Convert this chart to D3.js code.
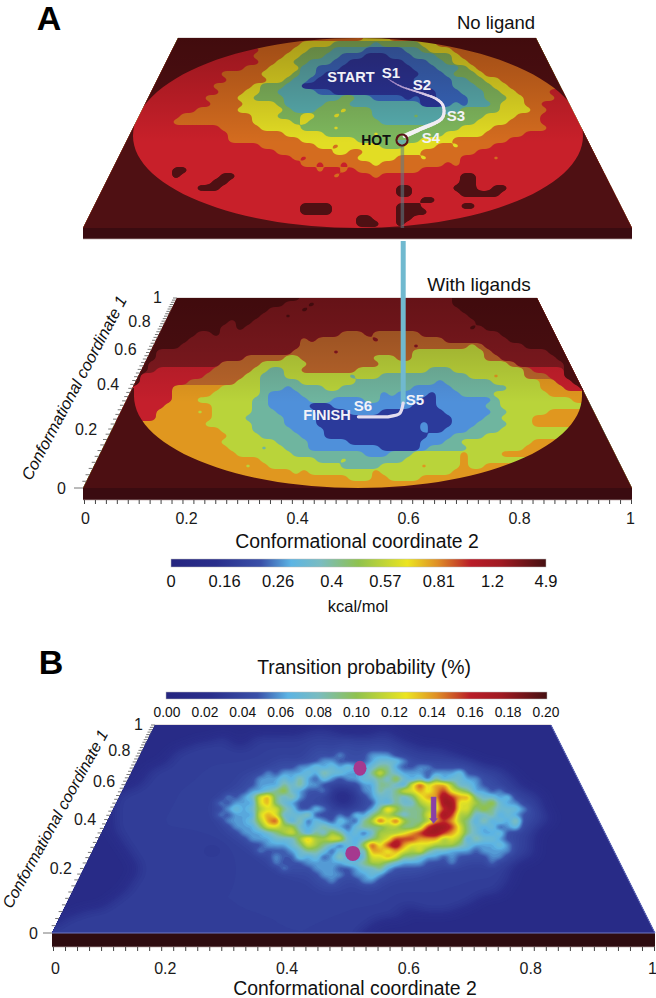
<!DOCTYPE html>
<html><head><meta charset="utf-8">
<script src="https://cdn.jsdelivr.net/npm/d3@7"></script>
<style>html,body{margin:0;padding:0;background:#fff}svg{display:block}text{font-family:"Liberation Sans",Arial,sans-serif}</style>
</head><body><svg id="c" width="656" height="998"></svg>
<script>
// Energy levels read from the "No ligand" landscape (0 = lowest band, 8 = unsampled)
const noLigandLevels = [
"88888 88888 88888 88888 88888 88888 88555 54445 55888 88888 88888 88888 88888 88888",
"88888 88888 88888 88888 88885 55544 44333 33233 33344 55888 88888 88888 88888 88888",
"88888 88888 88888 88888 86655 55443 33222 21111 12234 44558 88888 88888 88888 88888",
"88888 88888 88888 88866 66555 54433 32211 10001 11222 33455 55588 88888 88888 88888",
"88888 88888 88888 86666 66655 44332 22110 00000 01112 23445 55555 88888 88888 88888",
"88888 88888 88886 66666 65554 44422 11100 00000 00111 22234 55555 88888 88888 88888",
"88888 88888 88866 66655 55544 44322 10000 00000 00011 12333 45555 55888 88888 88888",
"88888 88888 88666 66665 55554 43221 00000 00000 00111 11223 34455 55588 88888 88888",
"88888 88888 86666 66555 55433 32200 00000 00000 00001 11222 33445 55555 88888 88888",
"88888 88888 86666 66655 54433 22222 11000 00000 00000 11122 23344 55556 68888 88888",
"88888 88888 66666 65555 44333 32222 22233 22111 10100 11112 23334 45555 66888 88888",
"88888 88886 66666 66555 54444 32222 23332 22222 22200 01212 22344 45566 66888 88888",
"88888 88886 66666 55555 44444 43222 33343 33222 22222 22233 33344 44556 66888 88888",
"88888 88866 66655 55555 55444 33344 33433 33222 22322 23333 34444 55566 66688 88888",
"88888 88666 66555 55555 55444 44343 33333 33322 22222 33333 44445 55566 66688 88888",
"88888 88666 66666 66655 55544 44433 33433 33333 33333 33344 44555 55556 66688 88888",
"88888 88666 66666 66665 55555 54444 43333 33433 33333 34444 45555 56666 66688 88888",
"88888 88666 66666 66665 55555 55544 44444 33333 33344 44555 55556 66666 66688 88888",
"88888 88866 66666 66666 66655 55555 44544 44433 34444 55455 55666 66666 66888 88888",
"88888 88866 66666 66666 66666 55555 55445 54444 44455 55555 66666 66666 66888 88888",
"88888 88886 66666 66666 66666 66565 55555 44444 55545 55566 66566 66666 68888 88888",
"88888 88886 66666 66666 66666 66655 65565 55455 55555 56566 66666 66666 88888 88888",
"88888 88888 66886 66666 66666 66666 56656 55555 55566 66666 66666 66666 88888 88888",
"88888 88888 86866 66688 66666 66666 66566 66566 66666 66688 66666 66688 88888 88888",
"88888 88888 88866 66886 66666 66666 66666 66666 66666 66688 66666 66688 88888 88888",
"88888 88888 88886 88866 66666 66666 66666 66666 88666 66888 66886 68888 88888 88888",
"88888 88888 88888 88866 66666 66666 66666 66666 88666 66688 88866 88888 88888 88888",
"88888 88888 88888 86666 66666 66666 66666 66666 66688 66666 88888 88888 88888 88888",
"88888 88888 88888 88866 66666 66688 88666 66666 88866 66688 68888 88888 88888 88888",
"88888 88888 88888 88888 66666 66688 88666 66666 88886 66688 88888 88888 88888 88888",
"88888 88888 88888 88888 88666 66666 66666 88666 88666 68888 88888 88888 88888 88888",
"88888 88888 88888 88888 88888 66666 66666 88866 86688 88888 88888 88888 88888 88888",
"88888 88888 88888 88888 88888 88866 66666 66888 88888 88888 88888 88888 88888 88888"];

// Energy levels read from the "With ligands" landscape
const withLigandsLevels = [
"88888 88888 88888 88888 88888 88877 77777 77777 77777 77888 88888 88888 88888 88888",
"88888 88888 88888 88888 88888 87778 77777 77777 77777 77888 88888 88888 88888 88888",
"88888 88888 88888 88888 88887 77787 77777 77777 77777 77788 88888 88888 88888 88888",
"88888 88888 88888 88888 88877 78777 77777 77777 77777 77778 88888 88888 88888 88888",
"88888 88888 88888 88887 88777 77777 77777 77777 77777 77777 88888 88888 88888 88888",
"88888 88888 88888 88877 87777 77777 77777 77777 77777 77778 78888 88888 88888 88888",
"88888 88888 88888 77877 77777 77777 77755 57555 55577 77777 77788 88888 88888 88888",
"88888 88888 88887 77777 77777 77757 55555 55755 55555 57777 77778 88888 88888 88888",
"88888 88888 88877 77777 77777 77755 55555 55555 55755 55553 57777 78888 88888 88888",
"88888 88888 77777 77777 77777 77555 55755 55555 55333 33333 35777 77778 88888 88888",
"88888 88888 77777 77777 75555 53355 55555 55333 55333 33333 35577 77777 88888 88888",
"88888 88887 77777 77755 55533 33335 55555 55533 33333 33333 33335 77777 78888 88888",
"88888 88887 66666 66555 55332 23355 55555 33333 33332 22333 33333 35666 68888 88888",
"88888 88866 66666 65555 53322 23333 33332 33322 22222 22223 33433 35556 68888 88888",
"88888 88866 66665 55555 33322 22233 33333 22222 22222 12222 22333 33344 66888 88888",
"88888 88666 66444 44433 33322 21222 23322 22222 22111 11222 22223 33344 46688 88888",
"88888 88666 66444 44333 33321 11122 22222 22212 11110 11122 22333 33334 44488 88888",
"88888 88666 66444 33333 33221 11112 22111 12211 11100 11111 11233 33333 33488 88888",
"88888 88666 64444 44333 33221 11110 00111 11111 11000 11111 12233 33333 33388 88888",
"88888 88866 44444 34333 33222 11111 00001 11100 00000 01111 11223 33334 44888 88888",
"88888 88866 44444 44333 32222 21111 00000 00000 00000 00111 12233 33444 44888 88888",
"88888 88884 44444 43333 33222 21111 00000 00000 00010 00111 22223 33444 88888 88888",
"88888 88888 44444 44433 33222 22111 10000 00000 00010 01112 22233 33333 88888 88888",
"88888 88888 84444 44443 33322 22211 10000 00000 00001 11222 23333 33338 88888 88888",
"88888 88888 88844 44433 33333 22221 11110 00000 00011 12233 33333 33488 88888 88888",
"88888 88888 88884 44443 33323 32221 11111 11100 00012 22223 33333 34888 88888 88888",
"88888 88888 88888 44444 33333 33222 22222 21112 22333 33343 33348 88888 88888 88888",
"88888 88888 88888 88444 44433 33333 22232 22222 23333 33343 33888 88888 88888 88888",
"88888 88888 88888 88844 43443 33333 33322 22233 33343 33343 34888 88888 88888 88888",
"88888 88888 88888 88888 84444 44343 33333 33433 33333 33448 88888 88888 88888 88888",
"88888 88888 88888 88888 88844 44444 44443 33443 33344 48888 88888 88888 88888 88888",
"88888 88888 88888 88888 88888 88444 44444 44444 44448 88888 88888 88888 88888 88888",
"88888 88888 88888 88888 88888 88888 88444 44444 88888 88888 88888 88888 88888 88888"];

// Transition probability, coded 0..a
const transitionCodes = [
"00000 00000 00000 00000 00000 00000 00000 00000 00000 00000 00000 00000 00000 00000 00000",
"00000 00000 00000 00000 00000 00000 00111 10000 01100 00000 00000 00000 00000 00000 00000",
"00000 00000 00000 00000 01100 11111 11111 11111 11110 00000 00000 00000 00000 00000 00000",
"00000 00000 00000 00011 11100 11111 11111 11211 11111 10000 00000 00000 00000 00000 00000",
"00000 00000 00000 01111 11111 11111 11122 12212 22211 11111 00000 00000 00000 00000 00000",
"00000 00000 00000 11111 11111 11111 11122 13212 33321 11111 11000 00000 00000 00000 00000",
"00000 00000 00000 11111 11111 11112 11223 32222 34443 21111 11110 00000 00000 00000 00000",
"00000 00000 00011 11111 11111 11122 23343 43433 45532 23322 22211 11000 00000 00000 00000",
"00000 00000 00111 11111 11111 12323 33435 44333 57543 33233 34221 11100 00000 00000 00000",
"00000 00000 00111 11111 11112 23334 35324 32334 45464 34253 44332 21110 00000 00000 00000",
"00000 00000 01111 11111 11111 23335 45332 11223 35543 79788 64432 21110 00000 00000 00000",
"00000 00001 11111 11111 11122 33456 43223 10013 35457 78789 76533 23111 10000 00000 00000",
"00000 00011 11111 11111 11323 47854 53222 00012 34454 5788a 98854 43421 11000 00000 00000",
"00000 00011 11111 11111 13233 37854 32112 10011 24354 4677a a7765 64331 11000 00000 00000",
"00000 00011 11111 11111 12343 46775 42243 21112 35865 55679 a7756 54443 21000 00000 00000",
"00000 00011 11111 11111 13233 37874 44521 13243 56654 5578a 96644 53432 21100 00000 00000",
"00000 00011 11111 11111 11333 46895 35243 24325 69796 55689 86535 34352 11100 00000 00000",
"00000 00011 11111 11111 11233 35776 64345 43245 55665 569aa 97543 42342 11000 00000 00000",
"00000 00011 11111 11111 11123 33456 75354 65342 46667 89aa9 87543 34211 10000 00000 00000",
"00000 00001 11111 11111 11112 33344 46866 77434 56799 98886 76354 43211 10000 00000 00000",
"00000 00001 11111 11111 11111 22333 45765 42436 979a8 77766 65433 34321 10000 00000 00000",
"00000 00000 11111 11111 01111 13222 34554 24354 88787 67544 33323 33311 10000 00000 00000",
"00000 00000 11111 11111 11111 11232 24342 35324 77875 54332 32222 33211 10000 00000 00000",
"00000 00000 01111 11111 11111 11132 22333 33445 66543 33222 32111 31110 00000 00000 00000",
"00000 00000 01111 11111 11111 11113 22133 32234 45322 22211 11111 11100 00000 00000 00000",
"00000 00000 01111 11111 11111 11111 12123 33133 43221 21111 11111 11100 00000 00000 00000",
"00000 00000 11111 11111 11111 11111 11122 31213 32111 11111 11111 11100 00000 00000 00000",
"00000 00000 11111 11111 11111 11111 11112 22112 21111 11111 11111 11000 00000 00000 00000",
"00000 00001 11111 11111 11111 11111 11111 11111 11111 11111 11111 11000 00000 00000 00000",
"00000 00011 11111 11111 11111 11111 11111 11111 11111 11111 11110 00000 00000 00000 00000",
"00000 00111 11111 11111 11111 11111 11111 11111 11111 11111 11100 00000 00000 00000 00000",
"00001 11111 11111 11111 11111 11111 11111 11111 11110 01111 10000 00000 00000 00000 00000",
"00111 11111 11111 11111 11111 11111 11111 11111 11111 00000 00000 00000 00000 00000 00000",
"01111 11111 11111 11111 11111 11111 11111 11111 10000 00000 00000 00000 00000 00000 00000",
"11111 11111 11111 11111 11111 11111 11111 11111 00000 00000 00000 00000 00000 00000 00000",
"11111 11111 11111 11111 11111 11111 11111 11110 00000 00000 00000 00000 00000 00000 00000"];
const transitionCodeValues = [.014,.036,.05,.062,.074,.09,.108,.122,.14,.158,.178];

const noLigandColors = ["#27359b","#3568c0","#56aeb0","#7eb95e","#e2dd24","#d46c1f","#c8202a","#4f1013","#4f1013"];
const withLigandsColors = ["#2b3a9b","#4f90da","#6fb59f","#b9d43a","#e0971f","#b9662b","#c41f2c","#801a20","#4c0f12"];

const energyTicks = ["0","0.16","0.26","0.4","0.57","0.81","1.2","4.9"];
const probTicks = ["0.00","0.02","0.04","0.06","0.08","0.10","0.12","0.14","0.16","0.18","0.20"];
const coordTicks = [0,0.2,0.4,0.6,0.8,1];
const rampStops = [0,.12,.24,.32,.4,.5,.63,.71,.8,.88,1];
const rampColors = ["#25257f","#2a2f8c","#3a50a8","#5cb4e4","#7abcc0","#8fc24e","#ece520","#df8f26","#b91c28","#a01a22","#461012"];

// path annotations, in (column,row) units of the landscape grids
const hotPath = [[38.5,6.8],[40,8],[42.9,9.3],[44.6,10.2],[45.4,11.3],[45.3,13.3],[42.5,15.2],[40.6,16.3]];
const finishPath = [[40.4,17.5],[40,19.2],[38.5,19.8],[34.8,19.8]];

const svg = d3.select("#c");
const defs = svg.append("defs");
const F = 4;

function parseRows(rows, cols, fillFrom){
  return rows.map((r,ri)=>{
    let s=r.replace(/ /g,''); while(s.length<cols) s+=s[s.length-1];
    const a=Array.from(s).map(c=>parseInt(c,11));
    if(fillFrom!==undefined && ri>=fillFrom){
      let i=0; while(i<a.length && a[i]===8) i++;
      let k=a.length-1; while(k>=0 && a[k]===8) k--;
      if(i<a.length){ for(let q=0;q<i;q++) a[q]=a[i]; for(let q=k+1;q<a.length;q++) a[q]=a[k]; }
    }
    return a;
  });
}
function upsample(fn, cols, nrows, f){
  const W=cols*f,H=nrows*f,out=new Float64Array(W*H);
  for(let j=0;j<H;j++){ const gy=Math.min(nrows-1,Math.max(0,(j+.5)/f-.5)),y0=Math.floor(gy),y1=Math.min(nrows-1,y0+1),ty=gy-y0;
    for(let i=0;i<W;i++){ const gx=Math.min(cols-1,Math.max(0,(i+.5)/f-.5)),x0=Math.floor(gx),x1=Math.min(cols-1,x0+1),tx=gx-x0;
      out[j*W+i]=(fn(x0,y0)*(1-tx)+fn(x1,y0)*tx)*(1-ty)+(fn(x0,y1)*(1-tx)+fn(x1,y1)*tx)*ty; } }
  return {W,H,out};
}
function smooth(a,W,H,passes){
  let tmp=new Float64Array(W*H);
  for(let p=0;p<passes;p++){
    for(let j=0;j<H;j++)for(let i=0;i<W;i++){const l=a[j*W+Math.max(0,i-1)],r=a[j*W+Math.min(W-1,i+1)];tmp[j*W+i]=.25*l+.5*a[j*W+i]+.25*r;}
    for(let j=0;j<H;j++)for(let i=0;i<W;i++){const u=tmp[Math.max(0,j-1)*W+i],d=tmp[Math.min(H-1,j+1)*W+i];a[j*W+i]=.25*u+.5*tmp[j*W+i]+.25*d;}
  }
  return a;
}
function plateClip(id,p){
  defs.append("clipPath").attr("id",id).append("polygon")
    .attr("points",[[p.tl,p.top],[p.tr,p.top],[p.br,p.bot],[p.bl,p.bot]].join(" "));
}
function gridPath(p,cols,nrows,f){
  const xg=d3.scaleLinear().domain([0,cols*f]).range([p.x0-p.dx/2,p.x0-p.dx/2+cols*p.dx]);
  const yg=d3.scaleLinear().domain([0,nrows*f]).range([p.y0-p.dy/2,p.y0-p.dy/2+nrows*p.dy]);
  return d3.geoPath(d3.geoTransform({point(x,y){this.stream.point(xg(x),yg(y));}}));
}
function ellipsePoints(d,a0,a1){
  return d3.range(a0,a1+.01,3).map(a=>{const t=a*Math.PI/180,s=Math.sin(t);
    return [d.cx+d.rx*Math.cos(t),d.cy+(s<0?d.ryUp:d.ryDown)*s];});
}
function drawLevels(id,rows,colors,p){
  const cols=p.cols,g0=parseRows(rows,cols,p.fillFrom),nrows=g0.length;
  plateClip(id,p);
  const g=svg.append("g").attr("clip-path",`url(#${id})`);
  g.append("rect").attr("x",p.bl).attr("y",p.top).attr("width",p.br-p.bl).attr("height",p.bot-p.top).attr("fill",colors[0]);
  const path=gridPath(p,cols,nrows,F);
  for(let L=1;L<colors.length;L++){
    const u=upsample((x,y)=>g0[y][x]>=L?1:0,cols,nrows,F);
    smooth(u.out,u.W,u.H,3);
    const c=d3.contours().size([u.W,u.H]).thresholds([.5])(u.out)[0];
    g.append("path").attr("d",path(c)).attr("fill",colors[L]);
  }
  const d=p.disc,line=d3.line();
  let hole;
  if(p.discFull){
    hole=`M${p.bl},${p.top}H${p.br}V${p.bot}H${p.bl}Z`+line(ellipsePoints(d,0,360))+"Z";
  } else {
    hole=line([[p.bl,d.cy-8],[d.cx-d.rx,d.cy-8],...ellipsePoints(d,0,180).reverse(),[d.cx+d.rx,d.cy-8],[p.br,d.cy-8],[p.br,p.bot],[p.bl,p.bot]])+"Z";
  }
  g.append("path").attr("d",hole).attr("fill-rule","evenodd").attr("fill",colors[8]);
  const gid=id+"g",lg=defs.append("linearGradient").attr("id",gid).attr("x1",0).attr("x2",0).attr("y1",0).attr("y2",1);
  lg.append("stop").attr("offset",0).attr("stop-color","#200").attr("stop-opacity",p.shade);
  lg.append("stop").attr("offset",.55).attr("stop-color","#200").attr("stop-opacity",0);
  g.append("rect").attr("x",p.bl).attr("y",p.top).attr("width",p.br-p.bl).attr("height",p.bot-p.top).attr("fill",`url(#${gid})`);
}
function drawSide(p,fill){
  svg.append("rect").attr("x",p.bl).attr("y",p.bot).attr("width",p.br-p.bl).attr("height",p.front-p.bot).attr("fill",fill);
  svg.append("line").attr("x1",p.bl).attr("x2",p.br).attr("y1",p.front).attr("y2",p.front).attr("stroke","#b9a7a7").attr("stroke-width",.7);
  svg.append("line").attr("x1",p.tl).attr("x2",p.tr).attr("y1",p.top).attr("y2",p.top).attr("stroke","#b9a7a7").attr("stroke-width",.7);
}
const kY=.8;
function vScale(p){ return d3.scaleLinear().domain([0,1]).range([p.bot,p.top]).interpolate((a,b)=>t=>a+(b-a)*(t*(1+kY)/(1+kY*t))); }
function edgeX(p){ return d3.scaleLinear().domain([p.bot,p.top]).range([p.bl,p.tl]); }

function drawAxes(p,opts){
  const y=vScale(p),ex=edgeX(p);
  const minor=d3.range(0,51).map(i=>i/50);
  const g=svg.append("g").attr("stroke","#777").attr("stroke-width",1);
  g.selectAll("line").data(minor).join("line")
    .attr("x1",d=>ex(y(d))-(d===0?9:4)).attr("x2",d=>ex(y(d))).attr("y1",d=>y(d)).attr("y2",d=>y(d));
  const xT=d3.scaleLinear().domain([0,1]).range([p.bl+1,p.br-1]);
  const ax=svg.append("g").attr("transform",`translate(0,${p.front})`)
    .call(d3.axisBottom(xT).tickValues(minor).tickSize(4).tickFormat(""));
  ax.select(".domain").remove(); ax.selectAll("line").attr("stroke","#444");
  const xL=d3.scaleLinear().domain([0,1]).range(opts.labelRange);
  const lab=svg.append("g").attr("transform",`translate(0,${opts.labelY})`)
    .call(d3.axisBottom(xL).tickValues(coordTicks).tickSize(0).tickFormat(d=>d===0?"0":d===1?"1":d3.format(".1f")(d)));
  lab.select(".domain").remove();
  lab.selectAll("text").attr("font-size",opts.size).attr("fill","#1a1a1a").attr("y",0).attr("dy",".35em")
    .attr("dx",d=>d===0?opts.zeroShift:0).style("font-family",'"Liberation Sans"');
  svg.selectAll(null).data(coordTicks).join("text").attr("class","yl")
    .attr("x",d=>ex(y(d))-(d===0?opts.zeroOff:opts.yOff)).attr("y",d=>y(d)+(d===1?-1:0)).attr("dy",".35em").attr("text-anchor","end")
    .attr("font-size",opts.size).attr("fill","#1a1a1a").text(d=>d===0?"0":d===1?"1":d3.format(".1f")(d));
}
function txt(s,x,y,size,o={}){
  return svg.append("text").attr("x",x).attr("y",y).attr("font-size",size).attr("text-anchor",o.anchor||"middle")
    .attr("dy",".35em").attr("fill",o.fill||"#111").attr("font-weight",o.weight||"normal").attr("font-style",o.style||"normal")
    .attr("transform",o.rot?`rotate(${o.rot} ${x} ${y})`:null).text(s);
}
function colorbar(id,x0,x1,y0,y1){
  const lg=defs.append("linearGradient").attr("id",id);
  rampStops.forEach((s,i)=>lg.append("stop").attr("offset",s).attr("stop-color",rampColors[i]));
  svg.append("rect").attr("x",x0).attr("y",y0).attr("width",x1-x0).attr("height",y1-y0).attr("fill",`url(#${id})`).attr("stroke","#bbb").attr("stroke-width",.5);
}
function taperPath(pts,scaleX,scaleY,w0,w1,c0,c1){
  const line=d3.line().x(d=>scaleX(d[0])).y(d=>scaleY(d[1])).curve(d3.curveCatmullRom);
  const tmp=svg.append("path").attr("d",line(pts)).attr("fill","none");
  const node=tmp.node(),L=node.getTotalLength(),n=40;
  const cs=d3.scaleLinear().domain([0,.5,1]).range([c0,"#eee6f4",c1]);
  const ws=d3.scaleLinear().domain([0,1]).range([w0,w1]);
  for(let i=0;i<n;i++){
    const a=node.getPointAtLength(L*i/n),b=node.getPointAtLength(L*(i+1.2)/n);
    svg.append("line").attr("x1",a.x).attr("y1",a.y).attr("x2",b.x).attr("y2",b.y)
      .attr("stroke",cs(i/n)).attr("stroke-width",ws(i/n)).attr("stroke-linecap","round");
  }
  tmp.remove();
}

// ---------- Panel A top
const pTop={tl:178,tr:536,bl:83,br:632,top:38,bot:228,front:239,x0:80,y0:38,dx:8,dy:6,cols:71,shade:.3,
  fillFrom:0,discFull:true,disc:{cx:358,cy:136,rx:225,ryUp:98,ryDown:92}};
drawSide(pTop,"#3a0b10");
drawLevels("a1",noLigandLevels,noLigandColors,pTop);
const gx1=d3.scaleLinear().domain([0,70]).range([80,640]), gy1=d3.scaleLinear().domain([0,32]).range([38,230]);
svg.append("line").attr("x1",gx1(40.3)).attr("x2",gx1(40.3)).attr("y1",gy1(17.8)).attr("y2",228)
  .attr("stroke","#5a7f88").attr("stroke-opacity",.55).attr("stroke-width",3.5);
taperPath(hotPath,gx1,gy1,1,4.5,"#9d7fc0","#f4f4f4");
svg.append("circle").attr("cx",gx1(40.25)).attr("cy",gy1(17)).attr("r",5.5).attr("fill","none").attr("stroke","#5a1418").attr("stroke-width",2.2);
svg.append("path").attr("d",d3.arc()({innerRadius:0,outerRadius:4.4,startAngle:Math.PI/2,endAngle:Math.PI*1.5}))
  .attr("transform",`translate(${gx1(40.25)},${gy1(17)})`).attr("fill","#6cb0a8");

// ---------- Panel A bottom
const pMid={tl:177,tr:537,bl:83,br:632,top:298,bot:488,front:500,x0:80,y0:298,dx:8,dy:6,cols:71,shade:.28,
  fillFrom:16,discFull:false,disc:{cx:358,cy:396,rx:224,ryUp:98,ryDown:92}};
drawSide(pMid,"#3a0b10");
drawLevels("a2",withLigandsLevels,withLigandsColors,pMid);
const gy2=d3.scaleLinear().domain([0,32]).range([298,490]);
svg.append("line").attr("x1",gx1(40.4)).attr("x2",gx1(40.4)).attr("y1",241).attr("y2",gy2(17.7))
  .attr("stroke","#70b9cf").attr("stroke-width",5);
svg.append("path").datum(finishPath).attr("fill","none").attr("stroke","#e4def0").attr("stroke-width",3.2).attr("stroke-linecap","round")
  .attr("d",d3.line().x(d=>gx1(d[0])).y(d=>gy2(d[1])).curve(d3.curveMonotoneY));
drawAxes(pMid,{labelRange:[75,630],labelY:518,size:16,zeroShift:10,yOff:15,zeroOff:17});

// ---------- Panel B
const pB={tl:155,tr:551,bl:52,br:655,top:725,bot:933,front:947,x0:52,y0:725,dx:8,dy:6,cols:76};
drawSide(pB,"#2e0c10");
plateClip("b1",pB);
(function(){
  const cols=pB.cols,g0=parseRows(transitionCodes,cols),nrows=g0.length;
  const haze=.05;
  const lo=upsample((x,y)=>Math.min(haze,transitionCodeValues[g0[y][x]]),cols,nrows,F);
  const hi=upsample((x,y)=>Math.max(0,transitionCodeValues[g0[y][x]]-haze),cols,nrows,F);
  smooth(lo.out,lo.W,lo.H,30);
  smooth(hi.out,hi.W,hi.H,1);
  const field=lo.out.map((v,i)=>v+hi.out[i]);
  const color=d3.scaleLinear().domain(rampStops.map(s=>s*.2)).range(rampColors).clamp(true);
  const th=d3.range(.002,.2,.002);
  const path=gridPath(pB,cols,nrows,F);
  const g=svg.append("g").attr("clip-path","url(#b1)");
  g.append("rect").attr("x",pB.bl).attr("y",pB.top).attr("width",pB.br-pB.bl).attr("height",pB.bot-pB.top).attr("fill",color(0));
  d3.contours().size([lo.W,lo.H]).thresholds(th)(field).forEach(c=>{
    g.append("path").attr("d",path(c)).attr("fill",color(c.value));
  });
})();
svg.append("line").attr("x1",pB.tr).attr("y1",pB.top).attr("x2",pB.br).attr("y2",pB.bot).attr("stroke","#6f78c4").attr("stroke-width",1);
svg.append("line").attr("x1",pB.bl).attr("y1",pB.bot).attr("x2",pB.br).attr("y2",pB.bot).attr("stroke","#6f78c4").attr("stroke-width",1);
const gxB=d3.scaleLinear().domain([0,75]).range([52,652]), gyB=d3.scaleLinear().domain([0,35]).range([725,935]);
svg.append("ellipse").attr("cx",gxB(38.5)).attr("cy",gyB(7.2)).attr("rx",6.5).attr("ry",7.5).attr("fill","#a5398f");
svg.append("ellipse").attr("cx",gxB(37.6)).attr("cy",gyB(21.4)).attr("rx",7.5).attr("ry",7.5).attr("fill","#a5398f");
svg.append("path").attr("fill","#8b3fa6").attr("stroke","#7a52b0").attr("stroke-width",.5)
  .attr("d",d3.line()([[gxB(47.7)-2.5,gyB(12)],[gxB(47.7)+2.5,gyB(12)],[gxB(47.7)+2.5,gyB(15.6)],[gxB(47.7)+4,gyB(15.6)],[gxB(47.7),gyB(16.4)],[gxB(47.7)-4,gyB(15.6)],[gxB(47.7)-2.5,gyB(15.6)]])+"Z");
drawAxes(pB,{labelRange:[43,652],labelY:968,size:16,zeroShift:12,yOff:12,zeroOff:14});

// ---------- Colour bars
colorbar("cbA",171,546,559,567);
const cbAx=d3.scalePoint().domain(energyTicks).range([171,546]);
energyTicks.forEach(t=>txt(t,cbAx(t),581,16.5));
txt("kcal/mol",358,606,16.5);
colorbar("cbB",166,547,692,699);
const cbBx=d3.scalePoint().domain(probTicks).range([167,546]);
probTicks.forEach(t=>txt(t,cbBx(t),712,13.8));

// ---------- Titles
txt("A",49,18,34,{weight:"bold",fill:"#000"});
txt("B",51,662,34,{weight:"bold",fill:"#000"});
txt("No ligand",496,23,18.5);
txt("With ligands",479,284,19);
txt("Conformational coordinate 2",357,541,19.4);
txt("Conformational coordinate 2",355,988,19.4);
txt("Transition probability (%)",364,667,19.4);
txt("Conformational coordinate 1",74,388,16.4,{rot:-62,style:"italic"});
txt("Conformational coordinate 1",55,819,16,{rot:-61,style:"italic"});

// ---------- Path labels
const lab=(s,x,y,o={})=>txt(s,x,y,o.size||15,{fill:o.fill||"#f2f2f8",weight:"bold"});
lab("START",351,77,{size:14.5});lab("S1",391,73);lab("S2",422,85);lab("S3",456,116);lab("S4",431,138);
lab("HOT",376,140,{fill:"#111",size:14});
lab("S5",415,400);lab("S6",363,406);lab("FINISH",327,415,{size:14.5});
</script></body></html>
